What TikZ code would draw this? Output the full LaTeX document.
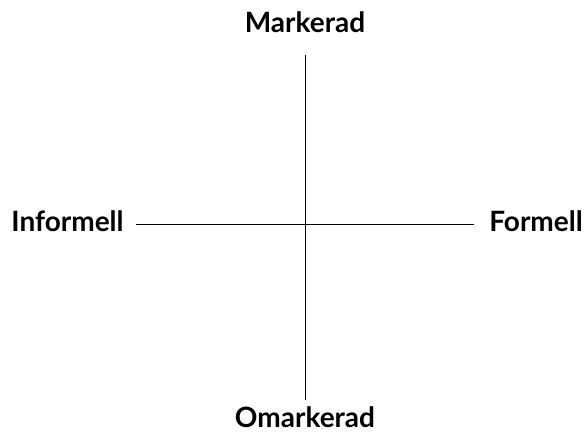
\documentclass[tikz,border=0pt]{standalone}
\usepackage{fontspec}
\setmainfont{Lato}
\usetikzlibrary{positioning}

\begin{document}
\begin{tikzpicture}[x=1pt, y=-1pt,
    axislabel/.style={font=\bfseries\fontsize{28}{32}\selectfont, inner sep=0pt, anchor=base},
    axisline/.style={line width=0.9pt, black}
]
    \useasboundingbox (0,0) rectangle (582,433);

    % Labels at the four ends
    \node[axislabel] (marked)   at (305,33)  {Markerad};
    \node[axislabel] (unmarked) at (305,427) {Omarkerad};
    \node[axislabel] (informal) at (67.5,232) {Informell};
    \node[axislabel] (formal)   at (536,232) {Formell};

    % Axes
    \draw[axisline, shorten <=22pt, shorten >=6pt] (marked.south) -- (unmarked.north);
    \draw[axisline, shorten <=12pt, shorten >=15pt] ([yshift=-3pt]informal.east) -- ([yshift=-3pt]formal.west);
\end{tikzpicture}
\end{document}
